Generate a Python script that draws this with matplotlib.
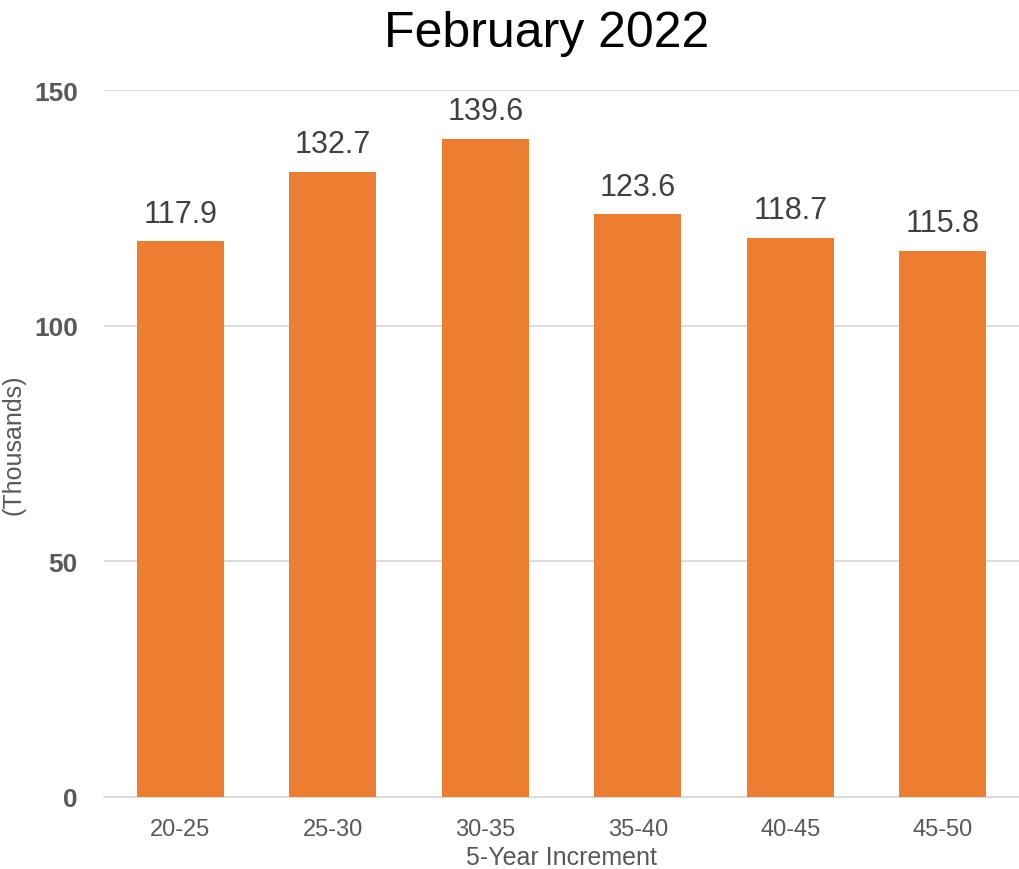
import numpy as np
import matplotlib
matplotlib.use("Agg")
import matplotlib.pyplot as plt

plt.rcParams["font.family"] = ["Liberation Sans", "DejaVu Sans"]

categories = ["20-25", "25-30", "30-35", "35-40", "40-45", "45-50"]
values = [117.9, 132.7, 139.6, 123.6, 118.7, 115.8]
yticks = [0, 50, 100, 150]

fig = plt.figure(figsize=(10.19, 8.70), dpi=100)
ax = fig.add_axes([0.1023, 0.0828, 0.8977, 0.8126])

x = np.arange(len(categories))
ax.bar(x, values, width=0.57, color="#ED7D31", zorder=3)

for xi, v in zip(x, values):
    ax.text(xi, v + 2.7, f"{v:.1f}", ha="center", va="bottom",
            fontsize=22, color="#404040")

ax.set_xlim(-0.5, len(categories) - 0.5)
ax.set_ylim(0, 150)
ax.set_xticks(x)
ax.set_xticklabels(categories, fontsize=17, color="#595959")
ax.set_yticks(yticks)
ax.set_yticklabels([str(t) for t in yticks], fontsize=19, color="#595959",
                   fontweight="bold")
ax.tick_params(axis="both", length=0)
ax.tick_params(axis="x", pad=15)
ax.tick_params(axis="y", pad=19)

ax.grid(axis="y", color="#D9D9D9", linewidth=1.3, zorder=0)
for s in ["top", "right", "left"]:
    ax.spines[s].set_visible(False)
ax.spines["bottom"].set_color("#D9D9D9")
ax.spines["bottom"].set_linewidth(1.3)

ax.set_xlabel("5-Year Increment", fontsize=18, color="#595959", labelpad=4)
ax.set_ylabel("(Thousands)", fontsize=18, color="#595959", labelpad=6)

fig.text(0.536, 0.946, "February 2022", ha="center", va="baseline",
         fontsize=36, color="black")

fig.savefig("out.png", dpi=100)
